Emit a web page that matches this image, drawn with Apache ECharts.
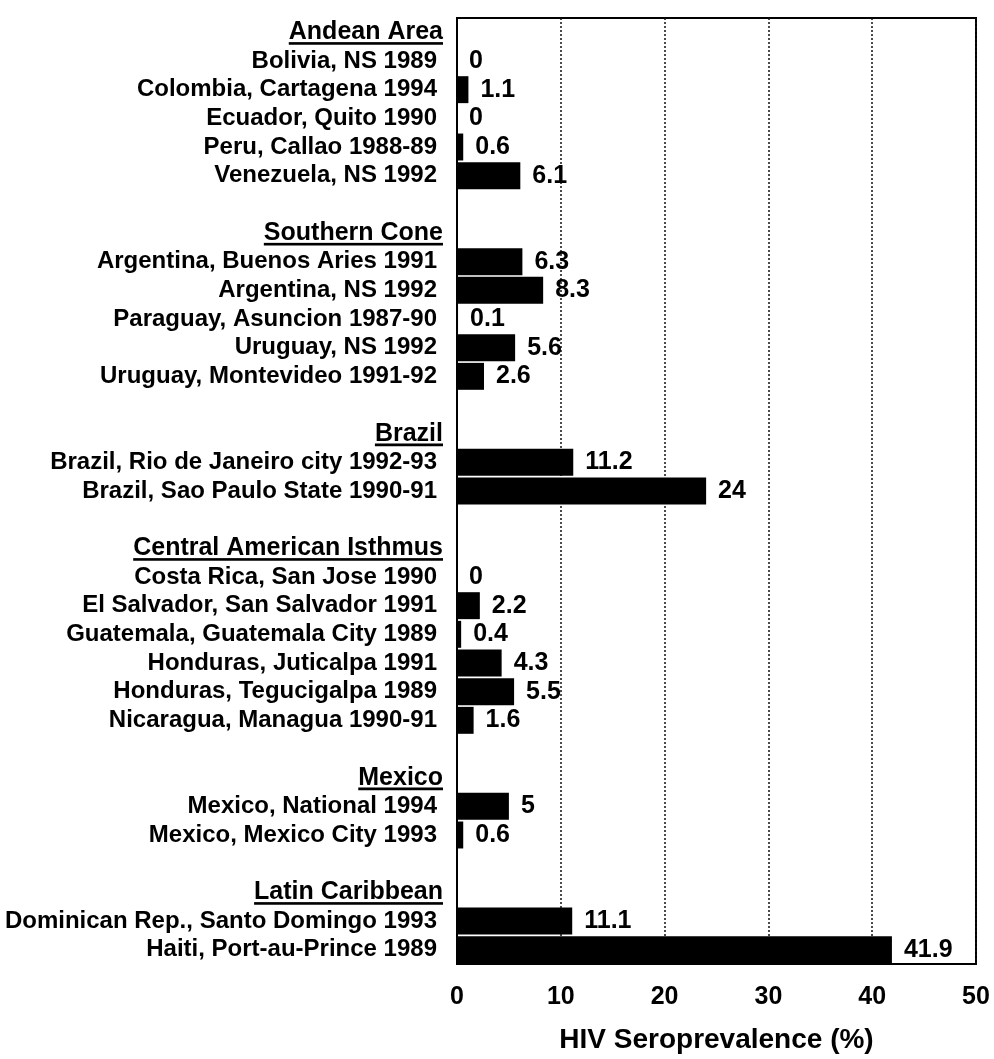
<!DOCTYPE html>
<html>
<head>
<meta charset="utf-8">
<script src="https://cdn.jsdelivr.net/npm/echarts@6/dist/echarts.min.js"></script>
<style>
    html, body { margin: 0; padding: 0; background: #fff; }
    #chart { width: 994px; height: 1059px; }
</style>
</head>
<body>
<div id="chart"></div>
<script>
const groupNames = ['Andean Area', 'Southern Cone', 'Brazil', 'Central American Isthmus', 'Mexico', 'Latin Caribbean'];

const groupSites = [
    ['Bolivia, NS 1989', 'Colombia, Cartagena 1994', 'Ecuador, Quito 1990', 'Peru, Callao 1988-89', 'Venezuela, NS 1992'],
    ['Argentina, Buenos Aries 1991', 'Argentina, NS 1992', 'Paraguay, Asuncion 1987-90', 'Uruguay, NS 1992', 'Uruguay, Montevideo 1991-92'],
    ['Brazil, Rio de Janeiro city 1992-93', 'Brazil, Sao Paulo State 1990-91'],
    ['Costa Rica, San Jose 1990', 'El Salvador, San Salvador 1991', 'Guatemala, Guatemala City 1989', 'Honduras, Juticalpa 1991', 'Honduras, Tegucigalpa 1989', 'Nicaragua, Managua 1990-91'],
    ['Mexico, National 1994', 'Mexico, Mexico City 1993'],
    ['Dominican Rep., Santo Domingo 1993', 'Haiti, Port-au-Prince 1989']
];

const groupValues = [
    [0, 1.1, 0, 0.6, 6.1],
    [6.3, 8.3, 0.1, 5.6, 2.6],
    [11.2, 24],
    [0, 2.2, 0.4, 4.3, 5.5, 1.6],
    [5, 0.6],
    [11.1, 41.9]
];

const xTicks = [0, 10, 20, 30, 40, 50];
const xTitle = 'HIV Seroprevalence (%)';

const fontFamily = '"Liberation Sans", Arial, sans-serif';

// rows: group header, its sites, then an empty spacer row between groups
const categories = [];
const values = [];
groupNames.forEach(function (name, g) {
    if (g > 0) {
        categories.push('');
        values.push('-');
    }
    categories.push(name);
    values.push('-');
    groupSites[g].forEach(function (site, i) {
        categories.push(site);
        values.push(groupValues[g][i]);
    });
});

// thin black strip at the bottom of the header text box, used as underline
const underline = document.createElement('canvas');
underline.width = 8;
underline.height = 28;
const ctx = underline.getContext('2d');
ctx.fillStyle = '#000';
ctx.fillRect(0, 25, 8, 3);

const chart = echarts.init(document.getElementById('chart'));

const option = {
    backgroundColor: '#fff',
    textStyle: { fontFamily: fontFamily, color: '#000' },
    grid: {
        left: 457,
        right: 18,
        top: 18,
        bottom: 82,
        show: true,
        borderColor: '#000',
        borderWidth: 2
    },
    xAxis: {
        type: 'value',
        min: xTicks[0],
        max: xTicks[xTicks.length - 1],
        interval: 10,
        name: xTitle,
        nameLocation: 'middle',
        nameGap: 62,
        nameTextStyle: { fontSize: 28, fontWeight: 'bold', color: '#000', fontFamily: fontFamily },
        axisLine: { show: true, lineStyle: { color: '#000', width: 2 } },
        axisTick: { show: false },
        axisLabel: { fontSize: 25, fontWeight: 'bold', color: '#000', margin: 21, fontFamily: fontFamily },
        splitLine: { show: true, lineStyle: { color: '#111', type: [2, 2], width: 1.5 } }
    },
    yAxis: {
        type: 'category',
        inverse: true,
        data: categories,
        axisLine: { show: true, lineStyle: { color: '#000', width: 2 } },
        axisTick: { show: false },
        splitLine: { show: false },
        axisLabel: {
            interval: 0,
            margin: 14,
            color: '#000',
            fontSize: 24,
            fontWeight: 'bold',
            fontFamily: fontFamily,
            formatter: function (value) {
                if (groupNames.indexOf(value) >= 0) {
                    return '{header|' + value + '}';
                }
                return value ? '{site|' + value + '}' : '';
            },
            rich: {
                header: {
                    fontSize: 25,
                    fontWeight: 'bold',
                    color: '#000',
                    fontFamily: fontFamily,
                    lineHeight: 28,
                    backgroundColor: { image: underline }
                },
                site: {
                    fontSize: 24,
                    fontWeight: 'bold',
                    color: '#000',
                    fontFamily: fontFamily,
                    padding: [0, 6, 0, 0]
                }
            }
        }
    },
    series: [{
        type: 'bar',
        data: values,
        barCategoryGap: '6%',
        itemStyle: { color: '#000' },
        label: {
            show: true,
            position: 'right',
            distance: 12,
            fontSize: 25,
            fontWeight: 'bold',
            color: '#000',
            fontFamily: fontFamily,
            formatter: '{c}'
        },
        animation: false
    }],
    animation: false
};

chart.setOption(option);
window.addEventListener('resize', function () {
    chart.resize();
});
</script>
</body>
</html>
